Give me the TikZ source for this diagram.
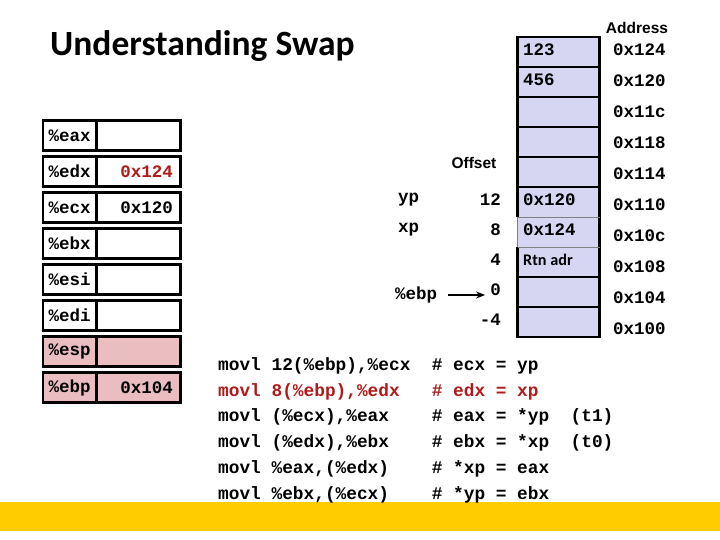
\documentclass[tikz,border=0pt]{standalone}
\usepackage{fontspec}
\setmainfont{Carlito}
\setmonofont{Liberation Mono}
\newfontfamily\arialf{Liberation Sans}
\usetikzlibrary{arrows.meta}
\definecolor{stkfill}{HTML}{D6D6F2}
\definecolor{regpink}{HTML}{EABEC0}
\definecolor{darkred}{HTML}{B01A1A}
\definecolor{yellowbar}{HTML}{FFCC00}
\newcommand{\monofnt}{\fontsize{17.5}{20}\selectfont\ttfamily\bfseries}
\newcommand{\codefnt}{\fontsize{17.8}{20}\selectfont\ttfamily\bfseries}
\newcommand{\sansfnt}{\fontsize{15.5}{18}\selectfont\arialf\bfseries}
\begin{document}
\begin{tikzpicture}[x=1pt,y=-1pt,
  regcell/.style={draw=black, line width=2.8pt, minimum height=30, inner sep=0, font=\monofnt},
  labcell/.style={regcell, minimum width=53.5},
  valcell/.style={regcell, minimum width=84.2},
  txt/.style={inner sep=0, font=\monofnt},
  sanstxt/.style={inner sep=0, font=\sansfnt},
  codeline/.style={inner sep=0, anchor=west, font=\codefnt, text height=12.5, text depth=4},
  thickline/.style={line width=2.8pt},
  thinline/.style={line width=0.8pt, draw=gray}
]
\useasboundingbox (0,0) rectangle (720,540);
\fill[white] (0,0) rectangle (720,540);
\fill[fill=yellowbar] (0,502) rectangle (720,531);

% title
\node[inner sep=0, anchor=base west, font=\fontsize{35.5}{40}\selectfont\bfseries] (title) at (50,56) {Understanding Swap};

% registers
\foreach \nm/\k/\fl in {eax/0/white, edx/1/white, ecx/2/white, ebx/3/white, esi/4/white, edi/5/white, esp/6/regpink, ebp/7/regpink}{
  \node[valcell, fill=\fl] (v\nm) at (138.1,{135.5+36*\k}) {};
  \node[labcell, fill=\fl] (l\nm) at (69.75,{135.5+36*\k}) {\%\nm};
}
\node[txt, anchor=east, text=darkred] (vedxt) at (173,171.5) {0x124};
\node[txt, anchor=east] (vecxt) at (173,207.5) {0x120};
\node[txt, anchor=east] (vebpt) at (173,387.5) {0x104};

% stack
\fill[stkfill] (517.5,37) rectangle (599.5,337);
\draw[thickline] (517.5,217) -- (517.5,37) -- (599.5,37) -- (599.5,337) -- (517.5,337) -- (517.5,247);
\foreach \k in {1,2,3,4,5,8,9}{
  \draw[thickline] (517.5,{37+30*\k}) -- (599.5,{37+30*\k});
}
\draw[thinline] (517.5,217) -- (599.5,217);
\draw[thinline] (517.5,247) -- (599.5,247);
\draw[thinline] (517.5,217) -- (517.5,247);

\node[txt, anchor=west] (s0) at (523,50) {123};
\node[txt, anchor=west] (s1) at (523,80) {456};
\node[txt, anchor=west] (s5) at (523,200) {0x120};
\node[txt, anchor=west] (s6) at (523,230) {0x124};
\node[inner sep=0, anchor=west, font=\fontsize{16.2}{18}\selectfont\bfseries] (s7) at (523,260) {Rtn adr};

% addresses
\node[sanstxt] (addr) at (637,28) {Address};
\foreach \a/\k in {124/0,120/1,11c/2,118/3,114/4,110/5,10c/6,108/7,104/8,100/9}{
  \node[txt, anchor=west] (a\a) at (613,{50+31*\k}) {0x\a};
}

% offsets
\node[sanstxt] (offset) at (474,163) {Offset};
\node[txt, anchor=east] (o12) at (501,200) {12};
\node[txt, anchor=east] (o8) at (501,230) {8};
\node[txt, anchor=east] (o4) at (501,260) {4};
\node[txt, anchor=east] (o0) at (501,290) {0};
\node[txt, anchor=east] (om4) at (501,320) {-4};

\node[txt, anchor=west] (yp) at (398,200) {yp};
\node[txt, anchor=west] (xp) at (398,230) {xp};
\node[txt, anchor=west] (ebpl) at (395,295) {\%ebp};
\draw[line width=2pt, -{Stealth[length=9pt,width=7pt]}, shorten <=11pt, shorten >=5pt] (ebpl.east) -- (ebpl.east -| o0.west);

% code
\node[codeline] (c1) at (218,366) {movl 12(\%ebp),\%ecx\ \ \# ecx = yp};
\node[codeline, text=darkred] (c2) at (218,392) {movl 8(\%ebp),\%edx\ \ \ \# edx = xp};
\node[codeline] (c3) at (218,417) {movl (\%ecx),\%eax\ \ \ \ \# eax = *yp\ \ (t1)};
\node[codeline] (c4) at (218,443) {movl (\%edx),\%ebx\ \ \ \ \# ebx = *xp\ \ (t0)};
\node[codeline] (c5) at (218,469) {movl \%eax,(\%edx)\ \ \ \ \# *xp = eax};
\node[codeline] (c6) at (218,495) {movl \%ebx,(\%ecx)\ \ \ \ \# *yp = ebx};
\end{tikzpicture}
\end{document}
